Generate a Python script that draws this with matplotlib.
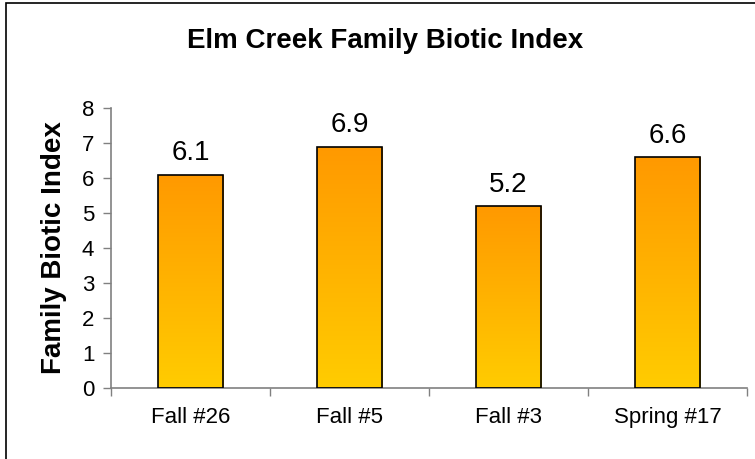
import numpy as np
import matplotlib
matplotlib.use("Agg")
import matplotlib.pyplot as plt
from matplotlib.colors import LinearSegmentedColormap
from matplotlib.patches import Rectangle

sites = ["Fall #26", "Fall #5", "Fall #3", "Spring #17"]
fbi = [6.1, 6.9, 5.2, 6.6]

plt.rcParams["font.family"] = ["Liberation Sans", "DejaVu Sans"]

W, H = 755, 459
fig = plt.figure(figsize=(W / 100, H / 100), dpi=100)
ax = fig.add_axes([111 / W, (H - 388) / H, (747 - 111) / W, (388 - 108) / H])

# outer frame (goes off the right and bottom edges like the original)
fig.patches.append(Rectangle((6 / W, -0.1), 1.2, (H - 3) / H + 0.1,
                             transform=fig.transFigure, fill=False,
                             edgecolor="black", linewidth=1.2))

x = np.arange(len(sites))
bars = ax.bar(x, fbi, width=0.41, edgecolor="black", linewidth=1.2,
              facecolor="none", zorder=3)

cmap = LinearSegmentedColormap.from_list("og", ["#FFCC00", "#FF9900"])
grad = np.linspace(0, 1, 256).reshape(-1, 1)
for b in bars:
    x0, y0 = b.get_x(), b.get_y()
    im = ax.imshow(grad, cmap=cmap, aspect="auto", origin="lower",
                   extent=[x0, x0 + b.get_width(), y0, y0 + b.get_height()],
                   zorder=2)
    im.set_clip_path(b)

for xi, v in zip(x, fbi):
    ax.text(xi, v + 0.41, f"{v:.1f}", ha="center", va="baseline", fontsize=20)

ax.set_xlim(-0.5, len(sites) - 0.5)
ax.set_ylim(0, 8)
ax.set_yticks(range(0, 9))
ax.set_xticks(x)
ax.set_xticklabels(sites, fontsize=16)
ax.set_xticks(np.arange(-0.5, len(sites)), minor=True)
ax.tick_params(axis="x", which="major", length=0, pad=14)
ax.tick_params(axis="x", which="minor", length=6, width=1, color="#808080", direction="out")
ax.tick_params(axis="y", length=6, width=1, color="#808080", labelsize=16, pad=6)

for s in ["top", "right"]:
    ax.spines[s].set_visible(False)
for s in ["left", "bottom"]:
    ax.spines[s].set_color("#808080")
    ax.spines[s].set_linewidth(1.2)

ax.set_ylabel("Family Biotic Index", fontsize=20, fontweight="bold", labelpad=11)
fig.text(385 / W, 1 - 41 / H, "Elm Creek Family Biotic Index", ha="center",
         va="center", fontsize=20, fontweight="bold")

fig.savefig("out.png", dpi=100)
